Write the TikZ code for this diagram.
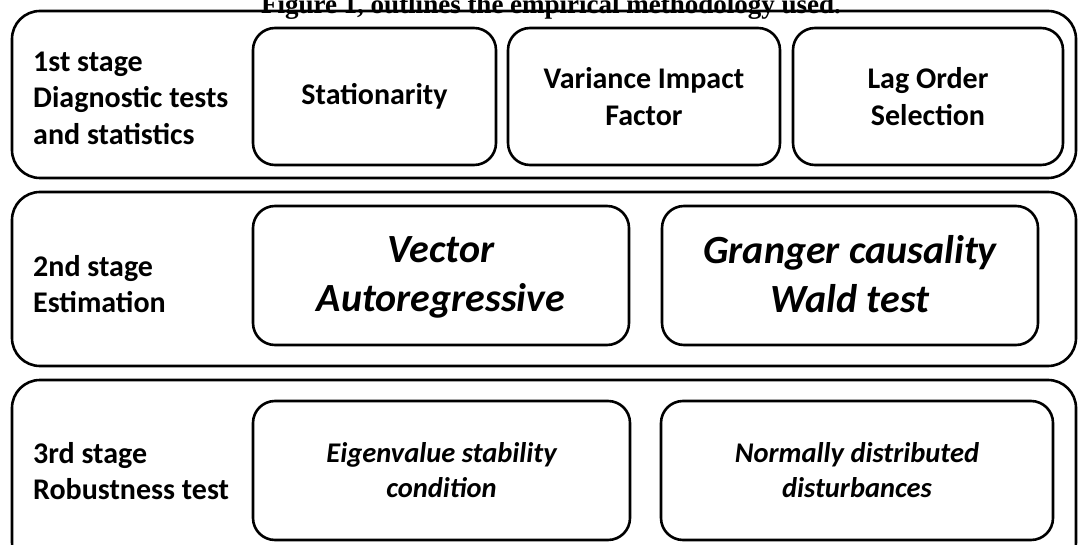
\documentclass[tikz,border=0pt]{standalone}
\usepackage{fontspec}
\setmainfont{Carlito}
\newfontfamily\titlefont{Liberation Serif}
\tikzset{
  stagebox/.style={draw, line width=2.6pt, rounded corners=28pt, inner sep=0pt},
  stagelabel/.style={anchor=west, align=left, inner sep=0pt, font=\fontsize{30}{36.6}\selectfont\bfseries},
  testbox/.style={draw, line width=2.6pt, rounded corners=22pt, inner sep=0pt, align=center, font=\fontsize{30}{36.6}\selectfont\bfseries},
  bigtest/.style={testbox, font=\fontsize{40}{49}\selectfont\bfseries\itshape},
  robtest/.style={testbox, font=\fontsize{28.5}{35}\selectfont\bfseries\itshape},
}

\begin{document}
\begin{tikzpicture}[x=1pt, y=-1pt]
    \useasboundingbox (0,0) rectangle (1078,545);

    % stages
    \draw[stagebox] (12,11) rectangle (1076,178);
    \draw[stagebox] (12,192) rectangle (1076,366);
    \draw[stagebox] (12,380) rectangle (1076,570);

    \node[stagelabel] (s1) at (33,98) {1st stage\\Diagnostic tests\\and statistics};
    \node[stagelabel] (s2) at (33,284) {2nd stage\\Estimation};
    \node[stagelabel] (s3) at (33,471) {3rd stage\\Robustness test};

    % 1st stage
    \node[testbox, minimum width=243pt, minimum height=137pt] (stat) at (374.5,96.5) {Stationarity};
    \node[testbox, minimum width=272pt, minimum height=137pt] (vif) at (644,96.5) {Variance Impact\\Factor};
    \node[testbox, minimum width=270pt, minimum height=137pt] (lag) at (928,96.5) {Lag Order\\Selection};

    % 2nd stage
    \node[bigtest, minimum width=376pt, minimum height=139pt] (var) at (441,275.5) {};
    \node[bigtest, minimum width=376pt, minimum height=139pt] (gc) at (850,275.5) {};
    \node[bigtest, draw=none, yshift=-6pt] (vartext) at (var) {Vector\\Autoregressive\strut};
    \node[bigtest, draw=none, yshift=-6pt] (gctext) at (gc) {Granger causality\\Wald test\strut};

    % 3rd stage
    \node[robtest, minimum width=377pt, minimum height=139pt] (eig) at (441.5,470.5) {Eigenvalue stability\\condition};
    \node[robtest, minimum width=392pt, minimum height=139pt] (norm) at (857,470.5) {Normally distributed\\disturbances};

    \node[anchor=base, inner sep=0pt, font=\titlefont\fontsize{27}{30}\selectfont\bfseries] (title) at (551,14) {Figure 1, outlines the empirical methodology used.};
\end{tikzpicture}
\end{document}
